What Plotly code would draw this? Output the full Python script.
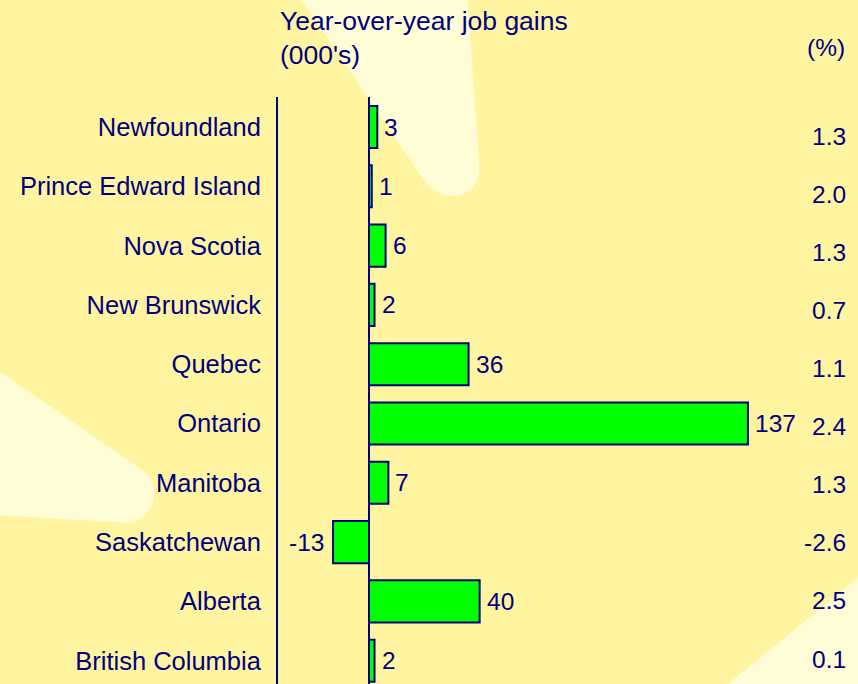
import plotly.graph_objects as go

provinces = ["Newfoundland", "Prince Edward Island", "Nova Scotia", "New Brunswick",
             "Quebec", "Ontario", "Manitoba", "Saskatchewan", "Alberta", "British Columbia"]
job_gains = [3, 1, 6, 2, 36, 137, 7, -13, 40, 2]
pct_change = ["1.3", "2.0", "1.3", "0.7", "1.1", "2.4", "1.3", "-2.6", "2.5", "0.1"]

NAVY = "#000080"
GREEN = "#00FF00"
BG = "#FFF5A0"
RAY = "#FFFDD6"
FONT = "Liberation Sans, Arial, sans-serif"
LABEL_SIZE = 25.5
NUM_SIZE = 24.5
TITLE_SIZE = 26.5

W, H = 858, 684
L, R, T, B = 278, 0, 97, 0
PW, PH = W - L - R, H - T - B


def px(x, y):
    return (x - L) / PW, (H - B - y) / PH


def path(cmds):
    out = []
    for c in cmds:
        if isinstance(c, str):
            out.append(c)
        else:
            xx, yy = px(*c)
            out.append(f"{xx:.4f},{yy:.4f}")
    return " ".join(out)


rays = [
    ["M", (288, -20), "L", (424, 180), "C", (436, 197), (460, 202), (474, 186),
     "C", (480, 178), (480, 168), (479, 160), "L", (466, -20), "Z"],
    ["M", (-20, 358), "L", (142, 470), "C", (156, 480), (156, 500), (150, 508),
     "C", (144, 518), (138, 522), (130, 523), "L", (-20, 514), "Z"],
    ["M", (870, 568), "L", (716, 694), "L", (870, 694), "Z"],
]

shapes = [dict(type="path", xref="paper", yref="paper", path=path(r),
               fillcolor=RAY, line=dict(width=0), layer="below") for r in rays]

fig = go.Figure()
fig.add_trace(go.Bar(
    y=provinces, x=job_gains, orientation="h",
    marker=dict(color=GREEN, line=dict(color=NAVY, width=2)),
    width=0.71, hoverinfo="skip",
))
# helper trace to establish the secondary y axis used by the percent column
fig.add_trace(go.Scatter(
    x=[0] * len(pct_change), y=list(range(len(pct_change))), yaxis="y2",
    mode="markers", marker=dict(opacity=0), hoverinfo="skip", showlegend=False,
))

annotations = [
    dict(text="Year-over-year job gains<br>(000's)", xref="paper", yref="paper",
         x=0, y=1, xanchor="left", yanchor="top", xshift=0, yshift=93,
         align="left", showarrow=False, font=dict(color=NAVY, size=TITLE_SIZE, family=FONT)),
    dict(text="(%)", xref="paper", yref="paper", x=1, y=1, xanchor="right",
         yanchor="middle", xshift=-11, yshift=50, showarrow=False,
         font=dict(color=NAVY, size=NUM_SIZE, family=FONT)),
]
for prov, v in zip(provinces, job_gains):
    annotations.append(dict(text=str(v), xref="x", yref="y", x=v, y=prov,
                            xanchor="left" if v >= 0 else "right", yanchor="middle",
                            xshift=5 if v >= 0 else -7, showarrow=False,
                            font=dict(color=NAVY, size=NUM_SIZE, family=FONT)))
for i, p in enumerate(pct_change):
    annotations.append(dict(text=p, xref="paper", yref="y2", x=1, y=i,
                            xanchor="right", yanchor="middle", xshift=-10,
                            showarrow=False, font=dict(color=NAVY, size=NUM_SIZE, family=FONT)))

pitch = 59.3
top_off = (127 - T) / pitch
pitch2 = (659 - 136) / 9
top2 = (136 - T) / pitch2

fig.update_layout(
    width=W, height=H, margin=dict(l=L, r=R, t=T, b=B, pad=0),
    paper_bgcolor=BG, plot_bgcolor="rgba(0,0,0,0)",
    showlegend=False, shapes=shapes, annotations=annotations,
    font=dict(family=FONT, color=NAVY, size=LABEL_SIZE),
    xaxis=dict(range=[(L - 369) / 2.766, (W - R - 369) / 2.766], showgrid=False,
               showticklabels=False, ticks="", zeroline=True, zerolinecolor=NAVY,
               zerolinewidth=2, showline=False, fixedrange=True),
    yaxis=dict(type="category", categoryorder="array", categoryarray=provinces,
               range=[-top_off + PH / pitch, -top_off], showgrid=False,
               showline=True, linecolor=NAVY, linewidth=2, ticks="",
               ticklabelstandoff=10, tickfont=dict(color=NAVY, size=LABEL_SIZE, family=FONT),
               zeroline=False, fixedrange=True),
    yaxis2=dict(overlaying="y", range=[-top2 + PH / pitch2, -top2], showgrid=False,
                showticklabels=False, zeroline=False, showline=False, visible=False),
)

fig.write_html("out.html", config={"displayModeBar": False},
               post_script="document.body.style.margin='0';document.body.style.overflow='hidden';")
